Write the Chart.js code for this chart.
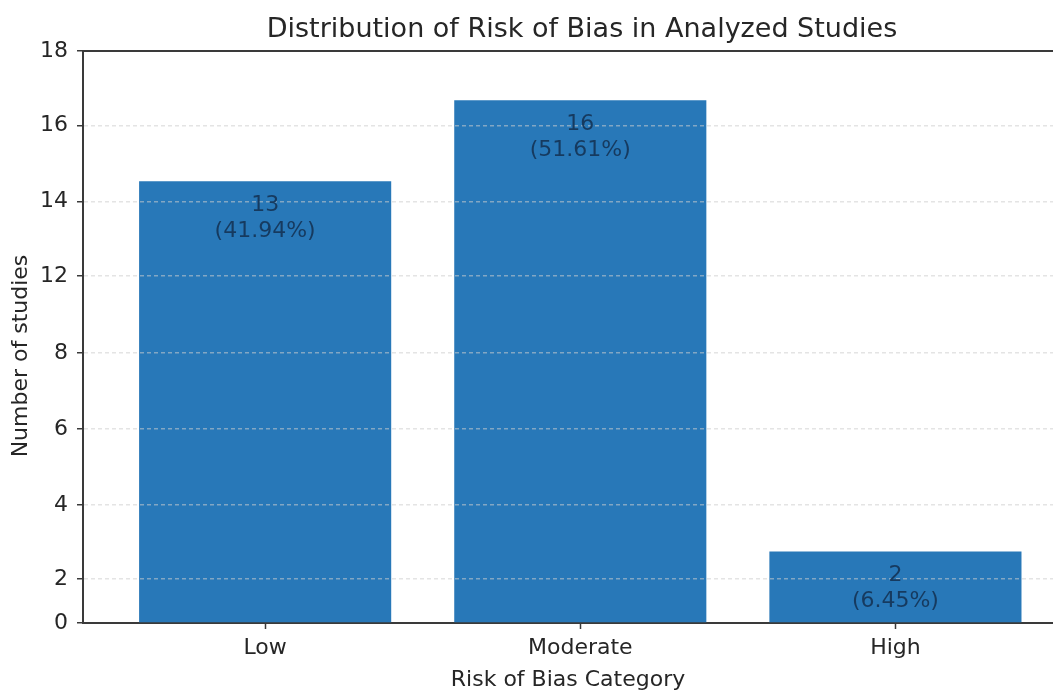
<!DOCTYPE html>
<html>
<head>
<meta charset="utf-8">
<title>Distribution of Risk of Bias in Analyzed Studies</title>
<script src="https://cdn.jsdelivr.net/npm/chart.js@4/dist/chart.umd.min.js"></script>
<style>
  html, body { margin: 0; padding: 0; background: #ffffff; }
  canvas { display: block; }
</style>
</head>
<body>
<canvas id="biaschart" width="1053" height="693"></canvas>
<script>
// categories and values
const categories = ['Low', 'Moderate', 'High'];
const studyCounts = [13, 16, 2];
const studyShares = ['41.94%', '51.61%', '6.45%'];
// bar tops as drawn in the picture, in axis units
const barHeights = [13.9, 16.45, 2.25];
// y ticks: where each label sits on the axis, and the label printed there
const yTickValues = [0, 1.38, 3.71, 6.1, 8.49, 10.92, 13.26, 15.66, 18];
const yTickLabels = ['0', '2', '4', '6', '8', '12', '14', '16', '18'];

const FONT = 'DejaVu Sans';
const TEXT = '#262626';
const SPINE = '#3a3a3a';

// title, y label, top spine and in-bar labels
const extras = {
    id: 'extras',
    afterDraw(chart) {
        const ctx = chart.ctx;
        const area = chart.chartArea;
        ctx.save();
        // top spine
        ctx.strokeStyle = SPINE;
        ctx.lineWidth = 2;
        ctx.beginPath();
        ctx.moveTo(area.left, area.top);
        ctx.lineTo(area.right, area.top);
        ctx.stroke();
        // title
        ctx.fillStyle = TEXT;
        ctx.font = '27px "' + FONT + '"';
        ctx.textAlign = 'center';
        ctx.textBaseline = 'alphabetic';
        ctx.fillText('Distribution of Risk of Bias in Analyzed Studies', 582, 37);
        // y axis label
        ctx.save();
        ctx.translate(21, 356);
        ctx.rotate(-Math.PI / 2);
        ctx.font = '22px "' + FONT + '"';
        ctx.textBaseline = 'middle';
        ctx.fillText('Number of studies', 0, 0);
        ctx.restore();
        // value labels inside the bars
        ctx.fillStyle = '#163a5f';
        ctx.font = '22px "' + FONT + '"';
        ctx.textBaseline = 'middle';
        chart.getDatasetMeta(0).data.forEach(function(bar, i) {
            ctx.fillText(String(studyCounts[i]), bar.x, bar.y + 24);
            ctx.fillText('(' + studyShares[i] + ')', bar.x, bar.y + 50);
        });
        ctx.restore();
    }
};

const ctx = document.getElementById('biaschart').getContext('2d');
new Chart(ctx, {
    type: 'bar',
    data: {
        datasets: [{
            label: 'Number of studies',
            data: categories.map((c, i) => ({ x: i, y: barHeights[i] })),
            backgroundColor: '#2878b8',
            borderWidth: 0,
            barPercentage: 0.8,
            categoryPercentage: 1.0
        }]
    },
    options: {
        responsive: false,
        animation: false,
        devicePixelRatio: 1,
        layout: { padding: { top: 51, left: 0, right: 0, bottom: 0 } },
        plugins: {
            legend: { display: false },
            title: { display: false },
            tooltip: { enabled: false }
        },
        scales: {
            x: {
                type: 'linear',
                offset: false,
                min: -0.578,
                max: 2.5,
                afterFit: function(scale) { scale.height = 70; },
                afterBuildTicks: function(scale) {
                    scale.ticks = categories.map((c, i) => ({ value: i }));
                },
                ticks: {
                    autoSkip: false,
                    maxRotation: 0,
                    padding: 6,
                    color: TEXT,
                    font: { family: FONT, size: 22 },
                    callback: function(v) { return categories[v]; }
                },
                grid: {
                    offset: false,
                    drawOnChartArea: false,
                    drawTicks: true,
                    tickLength: 6,
                    tickColor: SPINE,
                    tickWidth: 1.5
                },
                border: { display: true, color: SPINE, width: 2 },
                title: {
                    display: true,
                    text: 'Risk of Bias Category',
                    color: TEXT,
                    font: { family: FONT, size: 22 },
                    padding: { top: 10, bottom: 0 }
                }
            },
            y: {
                min: 0,
                max: 18,
                afterFit: function(scale) { scale.width = 83; },
                afterBuildTicks: function(scale) {
                    scale.ticks = yTickValues.map(v => ({ value: v }));
                },
                ticks: {
                    autoSkip: false,
                    padding: 9,
                    color: TEXT,
                    font: { family: FONT, size: 22 },
                    callback: function(v, i) { return yTickLabels[i]; }
                },
                grid: {
                    z: 1,
                    color: function(c) {
                        if (c.index === 0 || c.index === yTickValues.length - 1) return 'rgba(0,0,0,0)';
                        return 'rgba(205,205,205,0.55)';
                    },
                    lineWidth: 1.5,
                    drawTicks: true,
                    tickLength: 6,
                    tickColor: SPINE,
                    tickWidth: 1.5,
                    tickBorderDash: []
                },
                border: { display: true, z: 1, color: SPINE, width: 2, dash: [4, 3] },
                title: { display: false }
            }
        }
    },
    plugins: [extras]
});
</script>
</body>
</html>
